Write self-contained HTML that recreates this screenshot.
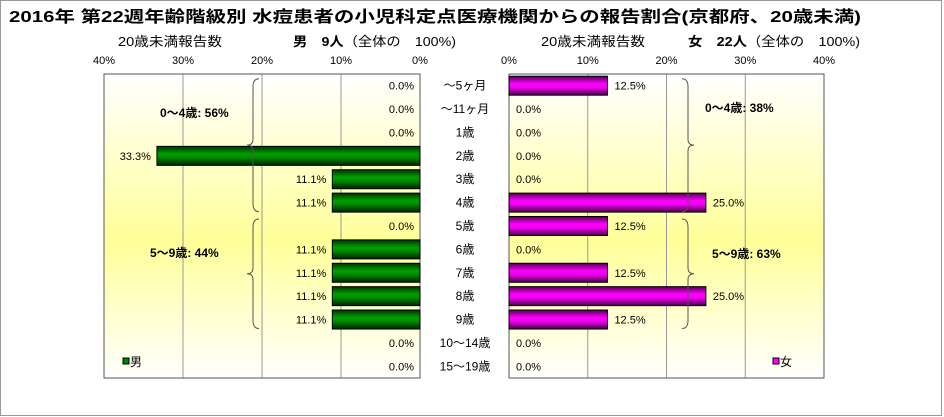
<!DOCTYPE html>
<html><head><meta charset="utf-8"><style>
body{margin:0;background:#fff;}
svg{display:block;font-family:"Liberation Sans","Noto Sans CJK JP",sans-serif;}
</style></head><body>
<svg id="c" width="944" height="417">
<defs>
<linearGradient id="bg" x1="0" y1="0" x2="0" y2="1">
<stop offset="0" stop-color="#ffffff"/><stop offset="0.55" stop-color="#ffff99"/><stop offset="1" stop-color="#ffffff"/></linearGradient>
<linearGradient id="gm" x1="0" y1="0" x2="0" y2="1">
<stop offset="0" stop-color="#003300"/><stop offset="0.4" stop-color="#00a000"/><stop offset="0.6" stop-color="#008800"/><stop offset="1" stop-color="#002200"/></linearGradient>
<linearGradient id="gf" x1="0" y1="0" x2="0" y2="1">
<stop offset="0" stop-color="#550055"/><stop offset="0.4" stop-color="#ff00ff"/><stop offset="0.6" stop-color="#ee00ee"/><stop offset="1" stop-color="#440044"/></linearGradient>
</defs>
<rect x="0.5" y="0.5" width="941" height="415" fill="#fff" stroke="#999"/>
<text x="9" y="22" font-size="16" font-weight="bold" textLength="852" lengthAdjust="spacingAndGlyphs">2016年 第22週年齢階級別 水痘患者の小児科定点医療機関からの報告割合(京都府、20歳未満)</text>
<text x="118" y="46" font-size="13" textLength="104" lengthAdjust="spacingAndGlyphs">20歳未満報告数</text>
<text x="293" y="46" font-size="13" textLength="163" lengthAdjust="spacingAndGlyphs"><tspan font-weight="bold">男　9人</tspan>（全体の　100%)</text>
<text x="541" y="46" font-size="13" textLength="104" lengthAdjust="spacingAndGlyphs">20歳未満報告数</text>
<text x="688" y="46" font-size="13" textLength="172" lengthAdjust="spacingAndGlyphs"><tspan font-weight="bold">女　22人</tspan>（全体の　100%)</text>
<g id="g"></g>
</svg>
<script>
const categories=["～5ヶ月","～11ヶ月","1歳","2歳","3歳","4歳","5歳","6歳","7歳","8歳","9歳","10～14歳","15～19歳"];
const maleValues=[0,0,0,33.3,11.1,11.1,0,11.1,11.1,11.1,11.1,0,0];
const femaleValues=[12.5,0,0,0,0,25,12.5,0,12.5,25,12.5,0,0];
const tickValues=[0,10,20,30,40];
const NS="http://www.w3.org/2000/svg";
const g=document.getElementById('g');
function el(t,a,txt){const e=document.createElementNS(NS,t);for(const k in a)e.setAttribute(k,a[k]);if(txt!==undefined)e.textContent=txt;g.appendChild(e);return e;}
const topY=74,botY=378,rowH=(botY-topY)/categories.length;
const L0=420,Lmax=104,R0=509,Rmax=824;
const xL=v=>L0-(L0-Lmax)*v/40, xR=v=>R0+(Rmax-R0)*v/40, yc=i=>topY+rowH*(i+0.5);
let e;
e=el('rect',{x:Lmax,y:topY,width:L0-Lmax,height:botY-topY,fill:'url(#bg)',stroke:'none'});

e=el('rect',{x:R0,y:topY,width:Rmax-R0,height:botY-topY,fill:'url(#bg)',stroke:'none'});

tickValues.forEach(t=>{
 e=el('line',{x1:xL(t),x2:xL(t),y1:topY,y2:botY,stroke:'#999'});
 
 e=el('line',{x1:xR(t),x2:xR(t),y1:topY,y2:botY,stroke:'#999'});
 
 e=el('text',{x:xL(t),y:64,'text-anchor':'middle','font-size':11},t+'%');
 
 e=el('text',{x:xR(t),y:64,'text-anchor':'middle','font-size':11},t+'%');
 
});
e=el('rect',{x:Lmax,y:topY,width:L0-Lmax,height:botY-topY,fill:'none',stroke:'#555'});

e=el('rect',{x:R0,y:topY,width:Rmax-R0,height:botY-topY,fill:'none',stroke:'#555'});

categories.forEach((c,i)=>{
 const y=yc(i),m=maleValues[i],f=femaleValues[i];
 e=el('text',{x:465,y:y+4,'text-anchor':'middle','font-size':12},c);
 
 if(m>0){e=el('rect',{x:xL(m),y:y-9.5,width:L0-xL(m),height:19,fill:'url(#gm)',stroke:'#000'});
  }
 e=el('text',{x:(m>0?xL(m):L0)-6,y:y+4,'text-anchor':'end','font-size':11},m.toFixed(1)+'%');
 
 if(f>0){e=el('rect',{x:R0,y:y-9.5,width:xR(f)-R0,height:19,fill:'url(#gf)',stroke:'#000'});
  }
 e=el('text',{x:(f>0?xR(f):R0)+7,y:y+4,'font-size':11},f.toFixed(1)+'%');
 
});
function brace(x,y1,y2,dir,name){
 const m=(y1+y2)/2,d=6*dir;
 e=el('path',{d:`M${x+d},${y1} Q${x},${y1} ${x},${y1+8} L${x},${m-6} Q${x},${m} ${x-d},${m} Q${x},${m} ${x},${m+6} L${x},${y2-8} Q${x},${y2} ${x+d},${y2}`,fill:'none',stroke:'#555'});
 
}
brace(253,yc(0)-7,yc(5)+9,1,'male-0-4-brace');
brace(253,yc(6)-7,yc(10)+9,1,'male-5-9-brace');
brace(688,yc(0)-7,yc(5)+9,-1,'female-0-4-brace');
brace(688,yc(6)-7,yc(10)+9,-1,'female-5-9-brace');
[[160,117,'0～4歳: 56%','male-0-4-summary'],[150,257,'5～9歳: 44%','male-5-9-summary'],[705,112,'0～4歳: 38%','female-0-4-summary'],[712,258,'5～9歳: 63%','female-5-9-summary']].forEach(a=>{
 e=el('text',{x:a[0],y:a[1],'font-size':12,'font-weight':'bold'},a[2]);
 
});
e=el('rect',{x:123,y:358,width:6,height:6,fill:'#008000',stroke:'#000'});

e=el('text',{x:130,y:366,'font-size':12},'男');

e=el('rect',{x:773,y:358,width:6,height:6,fill:'#ff00ff',stroke:'#000'});

e=el('text',{x:780,y:366,'font-size':12},'女');

</script>
</body></html>
